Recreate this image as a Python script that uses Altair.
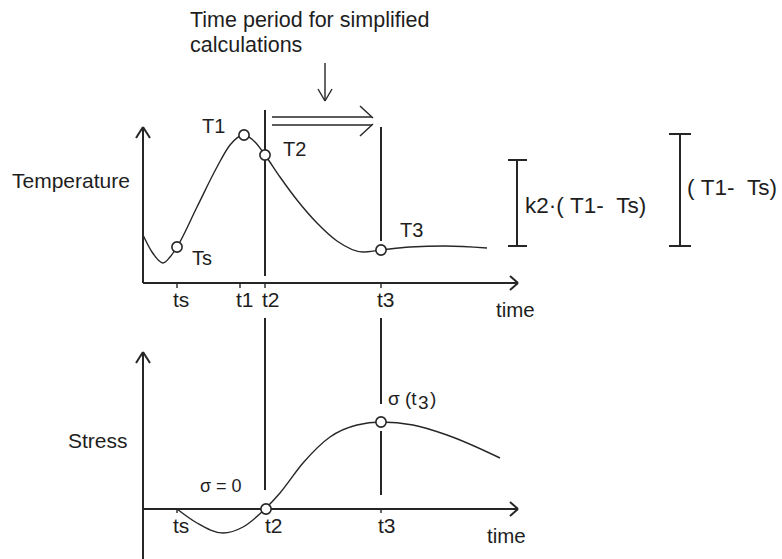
import altair as alt
import pandas as pd

# Diagram canvas units (x to the right, y downward)
W, H = 782, 559

# Temperature history (upper panel)
temp_x = [143, 152, 163, 170, 177, 197, 217, 230, 244, 255, 265, 280, 297, 317, 337, 363, 381, 410, 445, 487]
temp_y = [235, 252, 263, 257, 247, 207, 167, 145, 135, 142, 155, 177, 200, 223, 241, 252, 250, 247, 246, 248]

# Stress history (lower panel)
stress_x = [177, 197, 223, 243, 265, 280, 303, 330, 357, 381, 413, 447, 500]
stress_y = [509, 523, 533, 527, 509, 493, 463, 437, 425, 422, 425, 435, 458]

# Marked states: Ts, T1, T2, T3, sigma=0, sigma(t3)
pt_x = [177, 244, 265, 381, 266, 381]
pt_y = [247, 135, 155, 250, 509, 422]

# Heavy strokes: axes, arrows, time markers, brackets
heavy = [
    # upper axes with arrowheads
    (143, 127, 143, 283), (143, 283, 518, 283),
    (143, 127, 136, 138), (143, 127, 150, 138),
    (518, 283, 510, 276), (518, 283, 510, 290),
    # lower axes with arrowheads
    (143, 352, 143, 559), (143, 509, 518, 509),
    (143, 352, 136, 363), (143, 352, 150, 363),
    (518, 509, 510, 502), (518, 509, 510, 516),
    # time markers
    (265, 110, 265, 276), (265, 318, 265, 490),
    (381, 127, 381, 241), (381, 318, 381, 404), (381, 431, 381, 495),
    # range brackets
    (517, 160, 517, 246), (508, 160, 527, 160), (508, 246, 527, 246),
    (680, 134, 680, 246), (669, 134, 691, 134), (669, 246, 691, 246),
]

# Thin strokes: ticks, the period arrow and the pointer arrow
thin = [
    (177, 283, 177, 288), (240, 283, 240, 288), (265, 283, 265, 288), (381, 283, 381, 288),
    (177, 509, 177, 513), (381, 509, 381, 513),
    (272, 117, 372, 117), (272, 125, 372, 125),
    (360, 106, 373, 118), (360, 136, 373, 124),
    (325, 63, 325, 101), (318, 89, 325, 101), (332, 89, 325, 101),
]

NB = "\u00a0"
labels = [
    ("Time period for simplified", 190, 27, 21.5),
    ("calculations", 190, 52, 21.5),
    ("Temperature", 12, 188, 21),
    ("Stress", 68, 448, 21),
    ("T1", 202, 133, 20),
    ("T2", 283, 156, 20),
    ("Ts", 192, 265, 20),
    ("T3", 400, 237, 20),
    ("ts", 173, 307, 21),
    ("t1", 236, 307, 21),
    ("t2", 262, 307, 21),
    ("t3", 377, 307, 21),
    ("time", 496, 317, 20.5),
    ("ts", 173, 533, 21),
    ("t2", 265, 533, 21),
    ("t3", 378, 533, 21),
    ("time", 487, 543, 20.5),
    ("σ = 0", 200, 492, 18),
    ("σ (t", 388, 405, 19),
    ("3", 418, 409, 19),
    (")", 430, 405, 19),
    (f"k2·({NB}T1-{NB}{NB}Ts)", 525, 213, 22.5),
    (f"({NB}T1-{NB}{NB}Ts)", 687, 195, 22.5),
]

xs = alt.Scale(domain=[0, W], nice=False, zero=False)
ys = alt.Scale(domain=[0, H], nice=False, zero=False, reverse=True)
INK = "#262626"


def seg_frame(rows):
    return pd.DataFrame(rows, columns=["x", "y", "x2", "y2"])


def rules(rows, width):
    return alt.Chart(seg_frame(rows)).mark_rule(color=INK, strokeWidth=width).encode(
        x=alt.X("x:Q", scale=xs, axis=None),
        y=alt.Y("y:Q", scale=ys, axis=None),
        x2="x2:Q",
        y2="y2:Q",
    )


def curve(xv, yv):
    return alt.Chart(pd.DataFrame({"x": xv, "y": yv})).mark_line(
        color=INK, strokeWidth=1.4, interpolate="monotone"
    ).encode(
        x=alt.X("x:Q", scale=xs, axis=None),
        y=alt.Y("y:Q", scale=ys, axis=None),
    )


points = alt.Chart(pd.DataFrame({"x": pt_x, "y": pt_y})).mark_point(
    shape="circle", filled=True, fill="white", stroke=INK, strokeWidth=1.6, size=105, opacity=1
).encode(
    x=alt.X("x:Q", scale=xs, axis=None),
    y=alt.Y("y:Q", scale=ys, axis=None),
)

text = alt.Chart(pd.DataFrame(labels, columns=["label", "x", "y", "size"])).mark_text(
    align="left", baseline="alphabetic", font="Liberation Sans", color="#1e1e1e"
).encode(
    x=alt.X("x:Q", scale=xs, axis=None),
    y=alt.Y("y:Q", scale=ys, axis=None),
    text="label:N",
    size=alt.Size("size:Q", scale=None, legend=None),
)

chart = alt.layer(
    rules(heavy, 2),
    rules(thin, 1.4),
    curve(temp_x, temp_y),
    curve(stress_x, stress_y),
    points,
    text,
).properties(
    width=W, height=H, autosize=alt.AutoSizeParams(type="none"), padding=0, background="white"
).configure_view(stroke=None)

chart.save("out.html", embed_options={"renderer": "svg", "actions": False})
